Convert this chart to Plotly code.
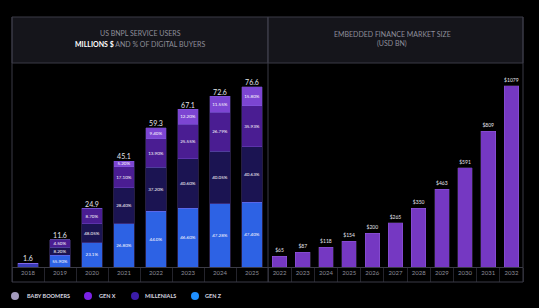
import plotly.graph_objects as go

# ---------------- data ----------------
years_l = ["2018", "2019", "2020", "2021", "2022", "2023", "2024", "2025"]
totals = [1.6, 11.6, 24.9, 45.1, 59.3, 67.1, 72.6, 76.6]
total_labels = ["1.6", "11.6", "24.9", "45.1", "59.3", "67.1", "72.6", "76.6"]
gen_z = [1.6, 5.0, 10.3, 18.5, 23.7, 24.9, 26.9, 27.6]
millenials = [0, 3.4, 8.2, 15.2, 18.7, 21.2, 22.3, 23.6]
gen_x = [0, 3.2, 6.4, 9.0, 12.1, 14.6, 16.7, 17.5]
boomers = [0, 0, 0, 2.4, 4.8, 6.4, 6.7, 7.9]
gen_z_pct = ["", "55.90%", "23.1%", "26.80%", "44.0%", "46.60%", "47.28%", "47.40%"]
millenials_pct = ["", "8.20%", "48.05%", "28.40%", "37.20%", "40.60%", "40.05%", "40.63%"]
gen_x_pct = ["", "4.50%", "8.70%", "17.10%", "13.90%", "25.55%", "26.79%", "35.93%"]
boomers_pct = ["", "", "", "5.20%", "9.40%", "12.20%", "11.55%", "15.80%"]

years_r = ["2022", "2023", "2024", "2025", "2026", "2027", "2028", "2029", "2030", "2031", "2032"]
market = [65, 87, 118, 154, 200, 265, 350, 463, 591, 809, 1079]
market_labels = ["$65", "$87", "$118", "$154", "$200", "$265", "$350", "$463", "$591", "$809", "$1079"]

# ---------------- helpers ----------------
W, H = 539, 308
def px(x):
    return x / W
def py(y):
    return 1 - y / H

FONT = "Lato, Open Sans, sans-serif"
C_Z = "#2d62e4"
C_M = "#1b1452"
C_X = "#4a1d92"
C_B = "#7c45d2"
EDGE = dict(color="rgba(140,110,240,0.45)", width=0.6)

fig = go.Figure()

seg_font = dict(size=4.5, color="white", family=FONT)
for vals, txt, col in [(gen_z, gen_z_pct, ["#3a3cb8"] + [C_Z] * 7),
                       (millenials, millenials_pct, C_M),
                       (gen_x, gen_x_pct, C_X),
                       (boomers, boomers_pct, C_B)]:
    fig.add_bar(x=years_l, y=vals, xaxis="x", yaxis="y", text=txt,
                textposition="inside", insidetextanchor="middle", textangle=0,
                constraintext="none",
                textfont=seg_font, marker=dict(color=col, line=EDGE),
                hoverinfo="skip")

fig.add_scatter(x=years_l, y=totals, xaxis="x", yaxis="y", mode="text",
                text=total_labels, textposition="top center",
                textfont=dict(size=7, color="#e4e4ec", family=FONT),
                cliponaxis=False, hoverinfo="skip")

fig.add_bar(x=years_r, y=market, xaxis="x2", yaxis="y2", text=market_labels,
            textposition="outside", textangle=0, constraintext="none",
            textfont=dict(size=5, color="#e6e6ee", family=FONT),
            marker=dict(color="#7538c2", line=dict(color="rgba(190,140,255,0.35)", width=0.6)),
            cliponaxis=False, hoverinfo="skip")

axis_common = dict(type="category", showgrid=False, zeroline=False, showline=True,
                   linecolor="#3b3b46", linewidth=1, ticks="outside", tickson="boundaries",
                   ticklen=14, tickcolor="#24242c", tickwidth=1, tickangle=0,
                   tickfont=dict(size=6, color="#8c8c98", family=FONT), fixedrange=True)
ydom = [py(267), py(63)]

fig.update_layout(
    width=W, height=H, margin=dict(l=0, r=0, t=0, b=0),
    paper_bgcolor="#000000", plot_bgcolor="#000000",
    barmode="stack", bargap=0.37, showlegend=False,
    xaxis=dict(domain=[px(12), px(268)], anchor="y", **axis_common),
    xaxis2=dict(domain=[px(268), px(523)], anchor="y2", **axis_common),
    yaxis=dict(domain=ydom, range=[0, 86.8], visible=False, anchor="x"),
    yaxis2=dict(domain=ydom, range=[0, 1216], visible=False, anchor="x2"),
    font=dict(family=FONT),
)

shapes = []
line_c = "#3b3b46"
# title boxes
for x0, x1 in [(12, 268), (268, 523)]:
    shapes.append(dict(type="rect", xref="paper", yref="paper", x0=px(x0), x1=px(x1),
                       y0=py(63), y1=py(17), fillcolor="#15151b",
                       line=dict(color=line_c, width=1), layer="below"))
# frame lines
for x in [12, 268, 523]:
    shapes.append(dict(type="line", xref="paper", yref="paper", x0=px(x), x1=px(x),
                       y0=py(282), y1=py(17), line=dict(color=line_c, width=1)))
shapes.append(dict(type="line", xref="paper", yref="paper", x0=px(12), x1=px(523),
                   y0=py(282), y1=py(282), line=dict(color=line_c, width=1)))

# legend dots
legend = [("BABY BOOMERS", "#a39bbd", 15, 25),
          ("GEN X", "#7b22e6", 88, 97),
          ("MILLENIALS", "#3c1ca8", 135, 143),
          ("GEN Z", "#1e8fff", 195, 203)]
annotations = []
for name, col, cx, tx in legend:
    shapes.append(dict(type="circle", xref="paper", yref="paper",
                       x0=px(cx - 4), x1=px(cx + 4), y0=py(300), y1=py(292),
                       fillcolor=col, line=dict(width=0)))
    annotations.append(dict(text="<b>" + name + "</b>", xref="paper", yref="paper",
                            x=px(tx), y=py(296), xanchor="left", yanchor="middle",
                            showarrow=False, font=dict(size=5.5, color="#d8d8e0", family=FONT)))

title_font = dict(size=7, color="#8e8e9a", family=FONT)
annotations += [
    dict(text="US BNPL SERVICE USERS", xref="paper", yref="paper", x=px(140), y=py(33),
         showarrow=False, font=title_font, xanchor="center", yanchor="middle"),
    dict(text='<span style="color:#ffffff"><b>MILLIONS $</b></span> AND % OF DIGITAL BUYERS',
         xref="paper", yref="paper", x=px(140), y=py(44),
         showarrow=False, font=title_font, xanchor="center", yanchor="middle"),
    dict(text="EMBEDDED FINANCE MARKET SIZE", xref="paper", yref="paper", x=px(392), y=py(34),
         showarrow=False, font=title_font, xanchor="center", yanchor="middle"),
    dict(text="(USD BN)", xref="paper", yref="paper", x=px(392), y=py(44),
         showarrow=False, font=title_font, xanchor="center", yanchor="middle"),
]

fig.update_layout(shapes=shapes, annotations=annotations)
fig.write_html("out.html")
